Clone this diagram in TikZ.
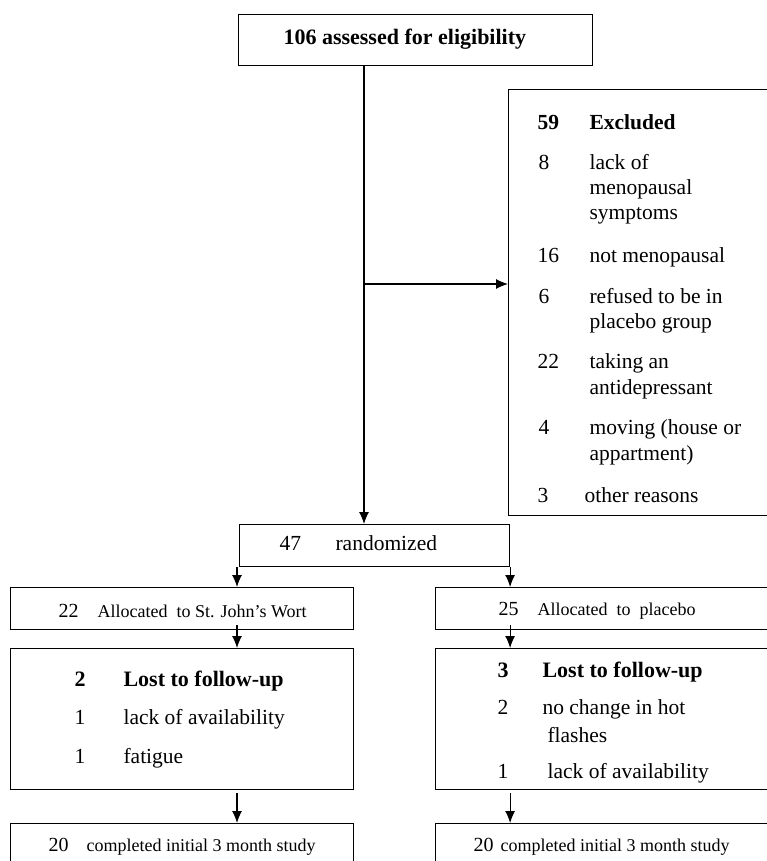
\documentclass[tikz,border=0pt]{standalone}
\usepackage{fontspec}
\setmainfont{Liberation Serif}
\usetikzlibrary{arrows.meta}

\begin{document}
\begin{tikzpicture}[x=1pt, y=-1pt, >={Latex[length=12pt,width=10pt]}, line width=1.1pt]
		\tikzstyle{box}=[draw, inner sep=0pt, anchor=north west]
		\tikzstyle{txt}=[inner sep=0pt, anchor=base west, font=\fontsize{21.5}{24}\selectfont]
		\tikzstyle{num}=[inner sep=0pt, anchor=base west, font=\fontsize{20}{24}\selectfont]
		\tikzstyle{sml}=[inner sep=0pt, anchor=base west, font=\fontsize{18}{22}\selectfont]
		\tikzstyle{hd}=[inner sep=0pt, anchor=base west, font=\fontsize{22}{24}\selectfont\bfseries]
		\clip (0,0) rectangle (767,861);
		% boxes
		\node[box, minimum width=354pt, minimum height=51pt] (S) at (238,14) {};
		\node[box, minimum width=300pt, minimum height=426pt] (E) at (508,89) {};
		\node[box, minimum width=270pt, minimum height=42pt] (R) at (239,524) {};
		\node[box, minimum width=343pt, minimum height=42pt] (A1) at (10,587) {};
		\node[box, minimum width=360pt, minimum height=42pt] (A2) at (435,587) {};
		\node[box, minimum width=343pt, minimum height=141pt] (L1) at (10,648) {};
		\node[box, minimum width=360pt, minimum height=141pt] (L2) at (435,648) {};
		\node[box, minimum width=343pt, minimum height=60pt] (C1) at (10,823) {};
		\node[box, minimum width=360pt, minimum height=60pt] (C2) at (435,823) {};
		% texts
		\node[hd] (s) at (283,45) {106 assessed for eligibility};
		\node[hd, font=\fontsize{21.5}{24}\selectfont\bfseries] (e0n) at (537,130) {59};
		\node[hd, font=\fontsize{21.5}{24}\selectfont\bfseries] (e0) at (589,130) {Excluded};
		\node[txt] (e1n) at (538,169) {8};
		\node[txt] (e1a) at (589,169) {lack of};
		\node[txt] (e1b) at (589,194) {menopausal};
		\node[txt] (e1c) at (589,219) {symptoms};
		\node[txt] (e2n) at (537,262) {16};
		\node[txt] (e2) at (589,262) {not menopausal};
		\node[txt] (e3n) at (538,303) {6};
		\node[txt] (e3a) at (589,303) {refused to be in};
		\node[txt] (e3b) at (589,328) {placebo group};
		\node[txt] (e4n) at (537,368) {22};
		\node[txt] (e4a) at (589,368) {taking an};
		\node[txt] (e4b) at (589,394) {antidepressant};
		\node[txt] (e5n) at (538,434) {4};
		\node[txt] (e5a) at (589,434) {moving (house or};
		\node[txt] (e5b) at (589,460) {appartment)};
		\node[txt] (e6n) at (537,502) {3};
		\node[txt] (e6) at (584,502) {other reasons};
		\node[txt] (rn) at (279,550) {47};
		\node[txt] (r) at (335,550) {randomized};
		\node[num] (a1n) at (58,617) {22};
		\node[sml] (a1) at (97,617) {Allocated\ \ to St. John’s Wort};
		\node[num] (a2n) at (498,615) {25};
		\node[sml] (a2) at (537,615) {Allocated\ \ to\ \ placebo};
		\node[hd] (l1n) at (74,686) {2};
		\node[hd] (l1) at (123,686) {Lost to follow-up};
		\node[txt] (l1an) at (74,724) {1};
		\node[txt] (l1a) at (123,724) {lack of availability};
		\node[txt] (l1bn) at (74,763) {1};
		\node[txt] (l1b) at (123,763) {fatigue};
		\node[hd] (l2n) at (497,677) {3};
		\node[hd] (l2) at (542,677) {Lost to follow-up};
		\node[txt] (l2an) at (497,714) {2};
		\node[txt] (l2a) at (542,714) {no change in hot};
		\node[txt] (l2b) at (547,742) {flashes};
		\node[txt] (l2cn) at (497,778) {1};
		\node[txt] (l2c) at (547,778) {lack of availability};
		\node[num] (c1n) at (48,851) {20};
		\node[sml] (c1) at (86,851) {completed initial 3 month study};
		\node[num] (c2n) at (473,851) {20};
		\node[sml] (c2) at (500,851) {completed initial 3 month study};
		% arrows
		\coordinate (T) at (364,0);
		\coordinate (B) at (364,284);
		\draw [->] (T |- S.south) -- (T |- R.north);
		\draw [->] (B) -- (B -| E.west);
		\draw [->] ([xshift=-2pt]R.south west) -- ([xshift=-2pt]R.south west |- A1.north);
		\draw [->] (R.south east) -- (R.south east |- A2.north);
		\draw [->] ([xshift=-2pt, yshift=5pt]R.south west |- A1.south) -- ([xshift=-2pt]R.south west |- L1.north);
		\draw [->] ([yshift=5pt]R.south east |- A2.south) -- (R.south east |- L2.north);
		\draw [->] ([xshift=-2pt, yshift=-3pt]R.south west |- L1.south) -- ([xshift=-2pt]R.south west |- C1.north);
		\draw [->] ([yshift=-3pt]R.south east |- L2.south) -- (R.south east |- C2.north);
\end{tikzpicture}
\end{document}
